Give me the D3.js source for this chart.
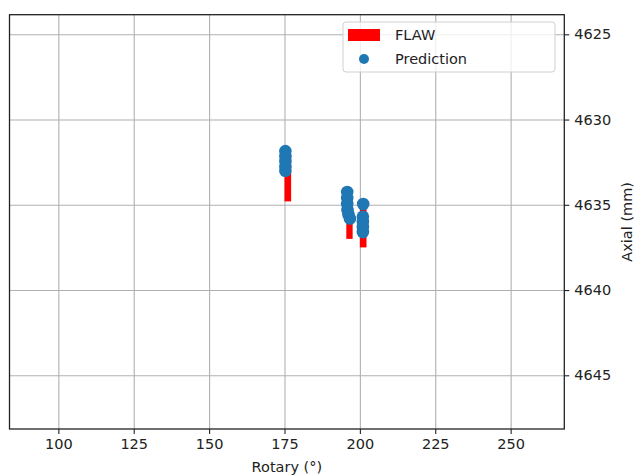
<!DOCTYPE html>
<html>
<head>
<meta charset="utf-8">
<script src="https://cdn.jsdelivr.net/npm/d3@7"></script>
<style>
  body { margin: 0; background: #fff; }
  text { font-family: "DejaVu Sans", sans-serif; }
</style>
</head>
<body>
<script>
// Flaw rectangles (rotary from/to, axial from/to)
var flawRotStart = [175.0, 195.5, 200.0];
var flawRotEnd   = [177.2, 197.6, 202.2];
var flawAxStart  = [4632.0, 4634.5, 4635.0];
var flawAxEnd    = [4634.8, 4637.0, 4637.5];

// Predicted points
var predRot = [175.3, 175.3, 175.3, 175.3, 175.3,
               195.8, 195.8, 195.8, 195.9, 196.2, 196.7,
               201.1, 201.0, 201.0, 201.0, 201.0];
var predAx  = [4631.85, 4632.15, 4632.45, 4632.75, 4633.0,
               4634.25, 4634.6, 4634.95, 4635.3, 4635.55, 4635.8,
               4634.95, 4635.7, 4636.0, 4636.3, 4636.6];

var xTicks = [100, 125, 150, 175, 200, 225, 250];
var yTicks = [4625, 4630, 4635, 4640, 4645];

var margin = {top: 14.7, right: 69.7, bottom: 47, left: 9.5},
    width = 634 - margin.left - margin.right,
    height = 476 - margin.top - margin.bottom;

var x = d3.scaleLinear().domain([83.8, 267.8]).range([0, width]);
var y = d3.scaleLinear().domain([4623.85, 4648.15]).range([0, height]);

var svg = d3.select("body").append("svg")
    .attr("width", 634)
    .attr("height", 476);

var chart = svg.append("g")
    .attr("transform", "translate(" + margin.left + "," + margin.top + ")");

// grid
chart.append("g")
    .attr("class", "grid")
    .attr("transform", "translate(0," + height + ")")
    .call(d3.axisBottom(x).tickValues(xTicks).tickSize(-height).tickFormat(""));
chart.append("g")
    .attr("class", "grid")
    .call(d3.axisLeft(y).tickValues(yTicks).tickSize(-width).tickFormat(""));
chart.selectAll(".grid .domain").remove();
chart.selectAll(".grid line")
    .attr("stroke", "#b0b0b0")
    .attr("stroke-width", 1.1);

// flaw bars
var flaws = flawRotStart.map(function(d, i) {
  return {r0: d, r1: flawRotEnd[i], a0: flawAxStart[i], a1: flawAxEnd[i]};
});
chart.selectAll(".flaw")
    .data(flaws)
  .enter().append("rect")
    .attr("class", "flaw")
    .attr("x", function(d) { return x(d.r0); })
    .attr("width", function(d) { return x(d.r1) - x(d.r0); })
    .attr("y", function(d) { return y(d.a0); })
    .attr("height", function(d) { return y(d.a1) - y(d.a0); })
    .attr("fill", "#ff0000");

// predictions
var preds = predRot.map(function(d, i) { return {r: d, a: predAx[i]}; });
chart.selectAll(".pred")
    .data(preds)
  .enter().append("circle")
    .attr("class", "pred")
    .attr("cx", function(d) { return x(d.r); })
    .attr("cy", function(d) { return y(d.a); })
    .attr("r", 6.3)
    .attr("fill", "#1f77b4");

// axes
var xAxis = chart.append("g")
    .attr("transform", "translate(0," + height + ")")
    .call(d3.axisBottom(x).tickValues(xTicks).tickSize(5).tickPadding(5)
      .tickFormat(d3.format("d")));
var yAxis = chart.append("g")
    .attr("transform", "translate(" + width + ",0)")
    .call(d3.axisRight(y).tickValues(yTicks).tickSize(5).tickPadding(5)
      .tickFormat(d3.format("d")));
[xAxis, yAxis].forEach(function(a) {
  a.select(".domain").remove();
  a.selectAll("line").attr("stroke", "#222").attr("stroke-width", 1.1);
  a.selectAll("text")
      .attr("fill", "#222")
      .style("font-size", "14.5px")
      .style("font-family", "DejaVu Sans");
});

// frame
chart.append("rect")
    .attr("width", width)
    .attr("height", height)
    .attr("fill", "none")
    .attr("stroke", "#222")
    .attr("stroke-width", 1.3);

// axis labels
svg.append("text")
    .attr("x", margin.left + width / 2)
    .attr("y", 472)
    .attr("text-anchor", "middle")
    .attr("fill", "#222")
    .style("font-size", "14.5px")
    .text("Rotary (°)");

svg.append("text")
    .attr("transform", "translate(632," + (margin.top + height / 2) + ") rotate(-90)")
    .attr("text-anchor", "middle")
    .attr("fill", "#222")
    .style("font-size", "14.5px")
    .text("Axial (mm)");

// legend
var legend = svg.append("g").attr("transform", "translate(343,22)");
legend.append("rect")
    .attr("width", 212)
    .attr("height", 50)
    .attr("rx", 3)
    .attr("fill", "#fff")
    .attr("fill-opacity", 0.8)
    .attr("stroke", "#d0d0d0");
legend.append("rect")
    .attr("x", 5).attr("y", 7)
    .attr("width", 32).attr("height", 12)
    .attr("fill", "#ff0000");
legend.append("circle")
    .attr("cx", 21).attr("cy", 37)
    .attr("r", 5)
    .attr("fill", "#1f77b4");
legend.selectAll(".lab")
    .data(["FLAW", "Prediction"])
  .enter().append("text")
    .attr("x", 52)
    .attr("y", function(d, i) { return 13 + i * 24; })
    .attr("dy", "0.35em")
    .attr("fill", "#222")
    .style("font-size", "14.5px")
    .text(function(d) { return d; });
</script>
</body>
</html>
